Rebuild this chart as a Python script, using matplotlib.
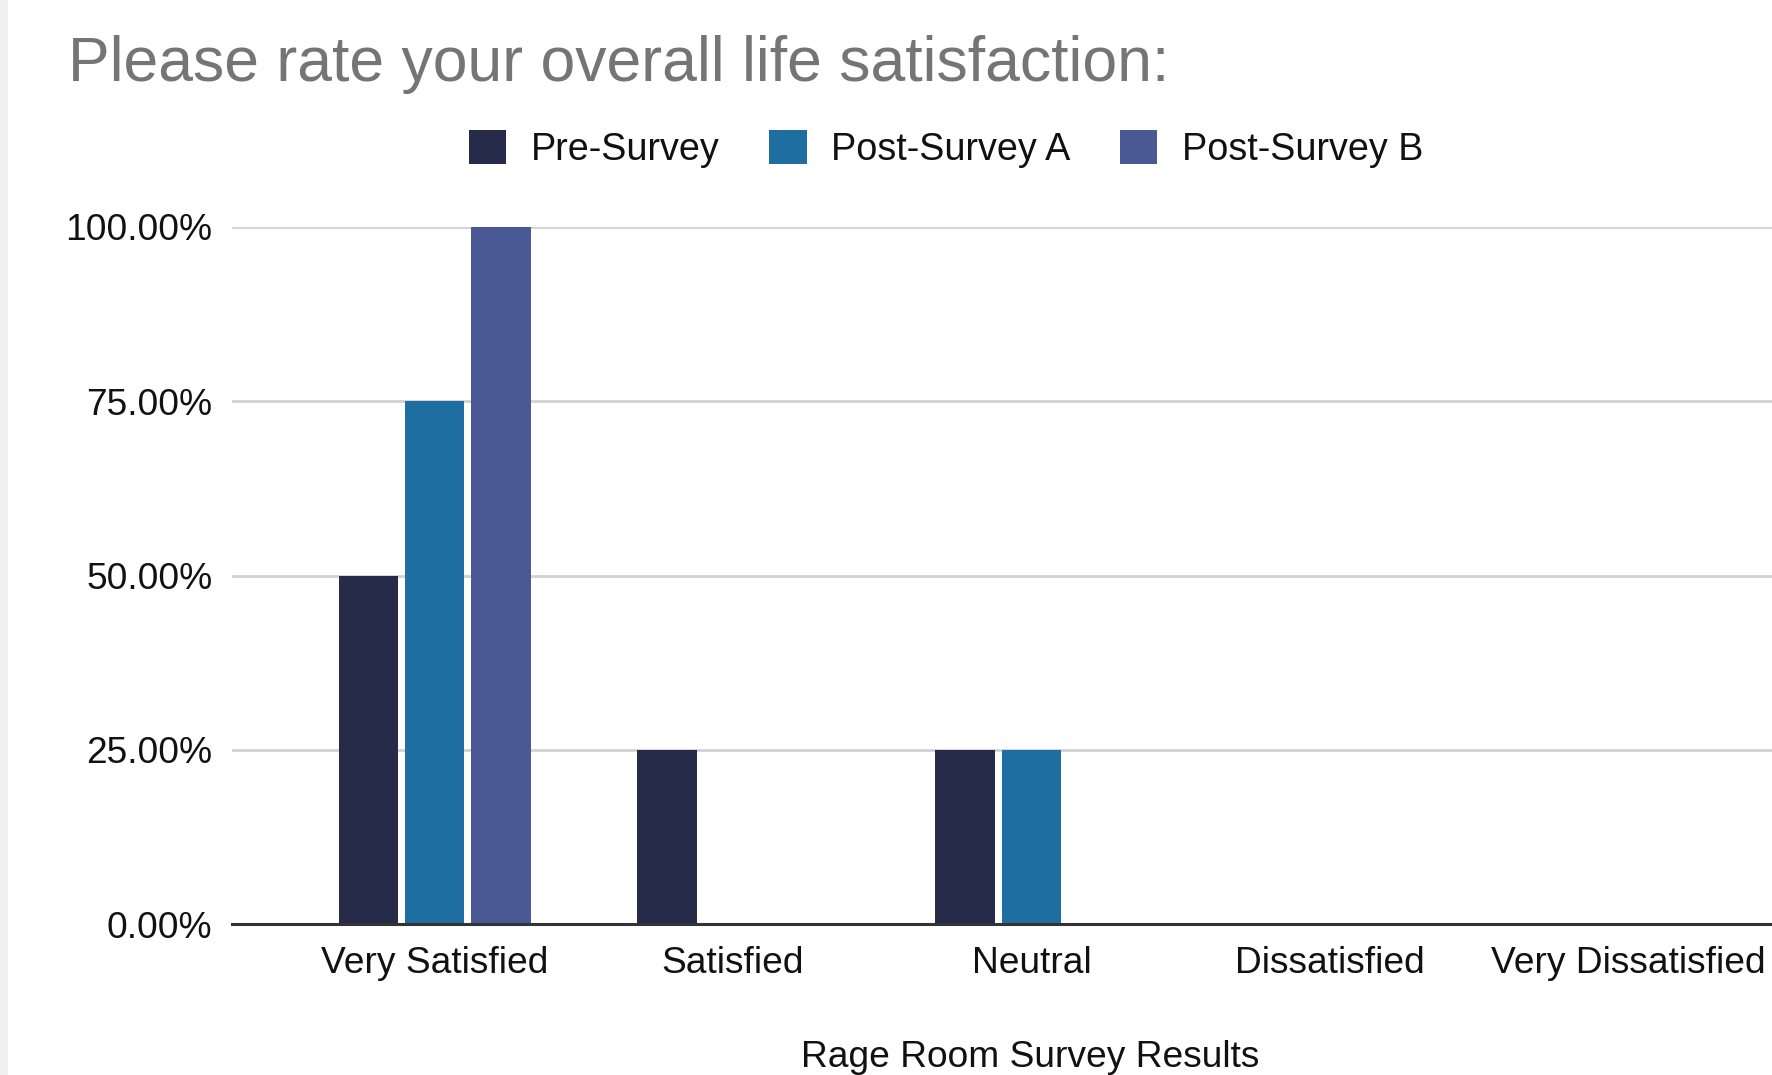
import matplotlib
matplotlib.use("Agg")
import matplotlib.pyplot as plt
import numpy as np
from matplotlib.patches import Rectangle
from matplotlib.ticker import FuncFormatter

# survey answers (percent of respondents)
categories = ["Very Satisfied", "Satisfied", "Neutral", "Dissatisfied", "Very Dissatisfied"]
series_names = ["Pre-Survey", "Post-Survey A", "Post-Survey B"]
pre_survey = [50, 25, 25, 0, 0]
post_survey_a = [75, 0, 25, 0, 0]
post_survey_b = [100, 0, 0, 0, 0]
y_ticks = [0, 25, 50, 75, 100]

colors = ["#262b4a", "#1f6ea1", "#4a5994"]

plt.rcParams['font.family'] = ['Liberation Sans', 'DejaVu Sans']

fig = plt.figure(figsize=(17.72, 10.75), dpi=100)
fig.patch.set_facecolor("white")

# light gray strip on the left edge
fig.patches.append(Rectangle((0, 0), 8 / 1772, 1, transform=fig.transFigure,
                             facecolor="#eef0f1", edgecolor="none", zorder=0))

ax = fig.add_axes([232 / 1772, 151 / 1075, 1599 / 1772, 697 / 1075])

x = np.arange(len(categories))
width = 0.2
offset = 0.222
values = [pre_survey, post_survey_a, post_survey_b]
for i, (name, vals) in enumerate(zip(series_names, values)):
    ax.bar(x + (i - 1) * offset, vals, width, color=colors[i], label=name, zorder=3)

ax.set_xlim(-0.679, len(categories) - 1 + 0.679)
ax.set_ylim(0, 100)
ax.set_yticks(y_ticks)
ax.yaxis.set_major_formatter(FuncFormatter(lambda v, p: "{:.2f}%".format(v)))
ax.set_xticks(x)
ax.set_xticklabels(categories)

ax.grid(axis="y", color="#d2d2d2", linewidth=2.0, zorder=0)
ax.set_axisbelow(True)
for s in ["left", "right", "top"]:
    ax.spines[s].set_visible(False)
ax.spines["bottom"].set_color("#333333")
ax.spines["bottom"].set_linewidth(2.2)
ax.spines["bottom"].set_zorder(4)

ax.tick_params(axis="y", length=0, pad=14, labelsize=26.7, labelcolor="#111111")
ax.tick_params(axis="x", length=0, pad=16, labelsize=26.7, labelcolor="#111111")

fig.text(68 / 1772, 1 - 81 / 1075, "Please rate your overall life satisfaction:",
         fontsize=45, color="#757575", ha="left", va="baseline")

fig.text(1030 / 1772, 1 - 1067 / 1075, "Rage Room Survey Results",
         fontsize=26.7, color="#111111", ha="center", va="baseline")

leg = fig.legend(loc="center", bbox_to_anchor=(946 / 1772, 1 - 149 / 1075),
                 ncol=3, frameon=False, fontsize=27.2, handlelength=1.0,
                 handleheight=1.0, handletextpad=0.65, columnspacing=1.3)
for t in leg.get_texts():
    t.set_color("#111111")

fig.savefig("out.png", dpi=100)
